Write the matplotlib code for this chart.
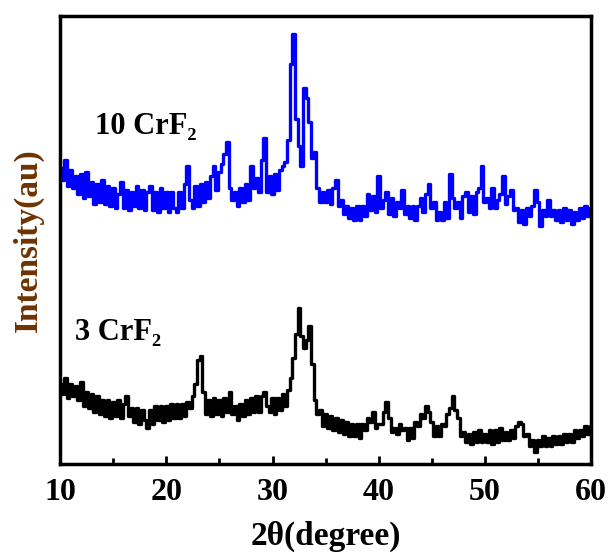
import numpy as np
import matplotlib
matplotlib.use("Agg")
import matplotlib.pyplot as plt
from matplotlib.ticker import MultipleLocator

# 2-theta grid, 0.25 degree step (10 -> 60)
two_theta = np.arange(201) * 0.25 + 10

# 10 CrF2 pattern (blue), intensity in arbitrary units
blue_10crf2 = [
    296, 284, 304, 278, 294, 276, 288, 270,   # 10-11.75
    290, 266, 292, 268, 282, 260, 280, 262,   # 12-13.75
    284, 260, 278, 258, 276, 256, 270, 282,   # 14-15.75
    256, 274, 254, 272, 258, 278, 256, 274,   # 16-17.75
    254, 272, 278, 254, 272, 252, 276, 256,   # 18-19.75
    272, 252, 272, 256, 252, 272, 256, 280,   # 20-21.75
    298, 264, 256, 278, 258, 280, 262, 282,   # 22-23.75
    266, 288, 298, 274, 292, 300, 310, 322,   # 24-25.75
    276, 264, 272, 258, 276, 262, 280, 264,   # 26-27.75
    298, 276, 286, 272, 304, 326, 272, 288,   # 28-29.75
    270, 290, 274, 294, 298, 302, 324, 400,   # 30-31.75
    430, 345, 318, 298, 376, 366, 342, 306,   # 32-33.75
    312, 276, 262, 272, 262, 274, 260, 276,   # 34-35.75
    284, 258, 264, 250, 258, 246, 256, 244,   # 36-37.75
    258, 244, 258, 248, 270, 254, 268, 252,   # 38-39.75
    288, 256, 264, 272, 250, 266, 248, 262,   # 40-41.75
    256, 274, 250, 258, 246, 258, 244, 258,   # 42-43.75
    266, 252, 270, 280, 256, 262, 244, 252,   # 44-45.75
    244, 262, 246, 290, 266, 256, 262, 246,   # 46-47.75
    268, 272, 252, 268, 250, 272, 276, 298,   # 48-49.75
    262, 266, 256, 276, 256, 264, 270, 288,   # 50-51.75
    260, 268, 274, 254, 256, 242, 254, 240,   # 52-53.75
    256, 248, 258, 274, 262, 238, 254, 248,   # 54-55.75
    264, 248, 254, 244, 254, 242, 256, 244,   # 56-57.75
    254, 240, 252, 244, 256, 246, 258, 248,   # 58-59.75
    256,                                      # 60
]

# 3 CrF2 pattern (black)
black_3crf2 = [
    80, 70, 86, 66, 80, 68, 78, 64,           # 10-11.75
    82, 58, 72, 56, 70, 52, 68, 50,           # 12-13.75
    64, 48, 64, 46, 62, 48, 64, 46,           # 14-15.75
    60, 68, 48, 56, 42, 56, 40, 54,           # 16-17.75
    44, 36, 54, 40, 58, 44, 58, 42,           # 18-19.75
    58, 44, 60, 46, 60, 46, 60, 48,           # 20-21.75
    62, 56, 68, 80, 104, 108, 72, 50,         # 22-23.75
    64, 48, 66, 50, 64, 48, 66, 52,           # 24-25.75
    72, 50, 58, 44, 60, 48, 64, 50,           # 26-27.75
    66, 52, 68, 52, 68, 72, 58, 52,           # 28-29.75
    66, 50, 66, 54, 70, 58, 74, 86,           # 30-31.75
    106, 130, 156, 128, 116, 124, 138, 100,   # 32-33.75
    64, 50, 54, 38, 50, 36, 48, 34,           # 34-35.75
    46, 32, 44, 30, 42, 28, 40, 28,           # 36-37.75
    40, 26, 40, 34, 46, 42, 52, 36,           # 38-39.75
    40, 40, 52, 62, 46, 32, 36, 30,           # 40-41.75
    40, 34, 36, 24, 36, 26, 42, 38,           # 42-43.75
    50, 46, 58, 52, 42, 28, 38, 28,           # 44-45.75
    40, 38, 50, 56, 68, 54, 46, 28,           # 46-47.75
    32, 22, 30, 20, 32, 22, 34, 22,           # 48-49.75
    30, 22, 34, 20, 34, 22, 36, 24,           # 50-51.75
    32, 24, 34, 26, 38, 42, 40, 28,           # 52-53.75
    30, 18, 24, 12, 24, 18, 28, 18,           # 54-55.75
    26, 18, 28, 20, 28, 20, 30, 22,           # 56-57.75
    30, 22, 34, 26, 34, 28, 38, 30,           # 58-59.75
    38,                                       # 60
]

x_ticks = [10, 20, 30, 40, 50, 60]
labels = ["10 CrF\u2082", "3 CrF\u2082"]

serif = ["Liberation Serif", "DejaVu Serif"]

fig = plt.figure(figsize=(6.08, 5.54), dpi=100)
ax = fig.add_axes([0.099, 0.1625, 0.873, 0.8085])

# step drawing gives the jagged detector-noise look of the scan
ax.plot(two_theta, blue_10crf2, color="#0000ff", lw=2.4, drawstyle="steps-mid")
ax.plot(two_theta, black_3crf2, color="black", lw=2.4, drawstyle="steps-mid")

ax.set_xlim(10, 60)
ax.set_ylim(0, 448)
ax.set_xticks(x_ticks)
ax.xaxis.set_minor_locator(MultipleLocator(5))
ax.set_yticks([])
ax.tick_params(axis="x", which="major", direction="in", length=6, width=2, pad=10)
ax.tick_params(axis="x", which="minor", direction="in", length=4, width=2)
for lab in ax.get_xticklabels():
    lab.set_fontfamily(serif)
    lab.set_fontweight("bold")
    lab.set_fontsize(23)
for sp in ax.spines.values():
    sp.set_linewidth(2.5)

ax.text(13.3, 330, labels[0], fontsize=22, fontweight="bold", family=serif)
ax.text(11.4, 124, labels[1], fontsize=22, fontweight="bold", family=serif)

ax.set_xlabel("2\u03b8(degree)", fontsize=24, fontweight="bold", family=serif, labelpad=10)
ax.set_ylabel("Intensity(au)", fontsize=24, fontweight="bold", family=serif,
              color="#6e3300", labelpad=12)

fig.savefig("out.png", dpi=100)
